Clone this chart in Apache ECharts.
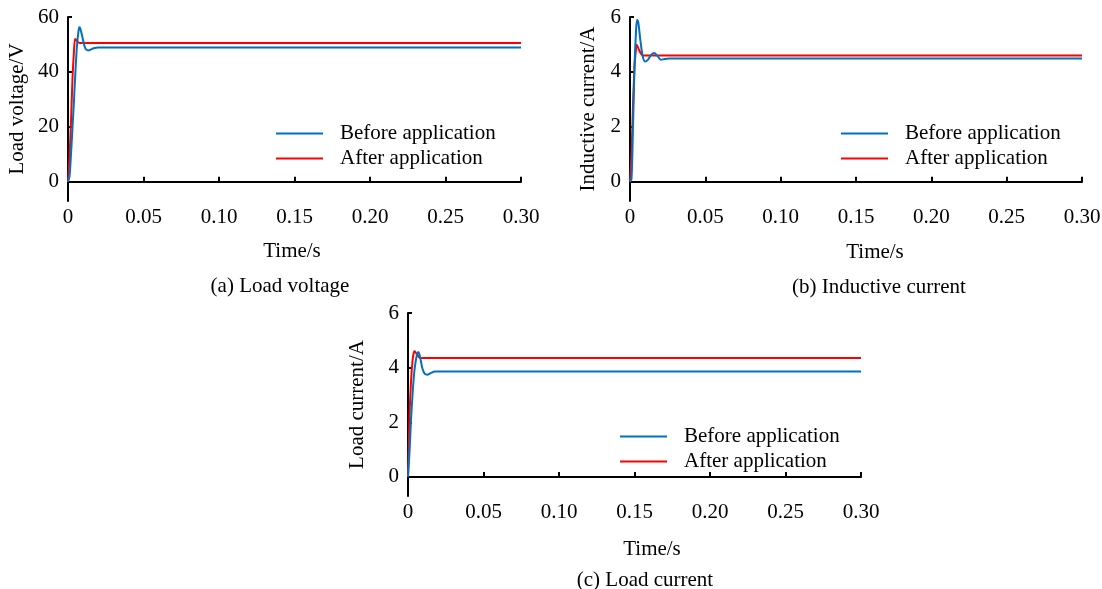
<!DOCTYPE html>
<html>
<head>
<meta charset="utf-8">
<script src="https://cdn.jsdelivr.net/npm/echarts@6/dist/echarts.min.js"></script>
<style>
  html, body { margin: 0; padding: 0; background: #fff; }
  #main { width: 1102px; height: 589px; }
</style>
</head>
<body>
<div id="main"></div>
<script>
// x tick labels
const timeTicks = [0, 0.05, 0.10, 0.15, 0.20, 0.25, 0.30];

// (a) load voltage
const voltBeforeT = [0, 0.001, 0.002, 0.003, 0.004, 0.005, 0.006, 0.007, 0.0075, 0.008, 0.009, 0.010, 0.011, 0.012, 0.0135, 0.015, 0.017, 0.020, 0.30];
const voltBeforeV = [0, 2, 10, 20, 30, 41, 50, 55, 56.3, 56, 54, 51.5, 49.3, 48.2, 47.8, 48.1, 48.6, 48.9, 48.9];
const voltAfterT = [0, 0.001, 0.002, 0.003, 0.004, 0.0047, 0.0055, 0.0065, 0.008, 0.30];
const voltAfterV = [0, 9, 22, 38, 48, 52, 51.6, 50.9, 50.5, 50.5];

// (b) inductive current
const indBeforeT = [0, 0.001, 0.002, 0.003, 0.004, 0.0047, 0.0055, 0.007, 0.0085, 0.010, 0.012, 0.014, 0.016, 0.018, 0.0205, 0.023, 0.026, 0.30];
const indBeforeV = [0, 0.1, 2, 4.2, 5.5, 5.9, 5.8, 5.1, 4.55, 4.38, 4.45, 4.62, 4.69, 4.6, 4.44, 4.47, 4.49, 4.49];
const indAfterT = [0, 0.001, 0.002, 0.003, 0.004, 0.0045, 0.006, 0.0075, 0.0085, 0.30];
const indAfterV = [0, 1, 2.8, 4.2, 4.85, 4.99, 4.8, 4.65, 4.6, 4.6];

// (c) load current
const loadBeforeT = [0, 0.001, 0.002, 0.003, 0.004, 0.005, 0.006, 0.0068, 0.0075, 0.0085, 0.0095, 0.011, 0.0128, 0.015, 0.018, 0.30];
const loadBeforeV = [0, 0.9, 2.1, 3.0, 3.75, 4.2, 4.48, 4.57, 4.5, 4.25, 3.98, 3.78, 3.74, 3.8, 3.86, 3.86];
const loadAfterT = [0, 0.001, 0.002, 0.003, 0.0038, 0.0044, 0.0055, 0.007, 0.0084, 0.30];
const loadAfterV = [0, 2.2, 3.5, 4.25, 4.55, 4.6, 4.52, 4.4, 4.35, 4.35];

const voltTicks = [0, 20, 40, 60];
const currTicks = [0, 2, 4, 6];

const FONT = 'Liberation Serif, Times New Roman, serif';
const FS = 21;
const BLUE = '#0072BD';
const RED = '#FF0000';

function zip(t, v) {
    return t.map((x, i) => [x, v[i]]);
}

function xAxisOf(gridIndex) {
    return {
        gridIndex: gridIndex,
        type: 'value',
        min: 0,
        max: 0.3,
        interval: 0.05,
        axisLine: { lineStyle: { color: '#000', width: 2 } },
        axisTick: { inside: true, length: 5, lineStyle: { color: '#000', width: 2 } },
        axisLabel: {
            margin: 6,
            fontFamily: FONT, fontSize: FS, color: '#000',
            customValues: timeTicks,
            formatter: v => v === 0 ? '0' : v.toFixed(2)
        },
        splitLine: { show: false }
    };
}

function yAxisOf(gridIndex, name, gap, min, max, ticks) {
    return {
        gridIndex: gridIndex,
        type: 'value',
        min: min,
        max: max,
        name: name,
        nameLocation: 'middle',
        nameGap: gap,
        nameTextStyle: { fontFamily: FONT, fontSize: FS, color: '#000' },
        axisLine: { show: true, lineStyle: { color: '#000', width: 2 } },
        axisTick: { inside: true, length: 4, customValues: ticks, lineStyle: { color: '#000', width: 2 } },
        axisLabel: { margin: 9, fontFamily: FONT, fontSize: FS, color: '#000', customValues: ticks },
        splitLine: { show: false }
    };
}

function lineOf(name, color, data, idx) {
    return {
        name: name,
        type: 'line',
        xAxisIndex: idx,
        yAxisIndex: idx,
        data: data,
        symbol: 'none',
        smooth: 0.3,
        color: color,
        lineStyle: { color: color, width: 2 },
        animation: false
    };
}

function legendOf(left, top) {
    return {
        left: left,
        top: top,
        orient: 'vertical',
        icon: 'rect',
        itemWidth: 47,
        itemHeight: 2,
        itemGap: 4,
        data: ['Before application', 'After application'],
        textStyle: { fontFamily: FONT, fontSize: FS, color: '#000', padding: [0, 0, 0, 12] }
    };
}

function text(x, y, str) {
    return {
        type: 'text',
        x: x,
        y: y,
        style: { text: str, fontFamily: FONT, fontSize: FS, fill: '#000', align: 'center', verticalAlign: 'middle' }
    };
}

const myChart = echarts.init(document.getElementById('main'));
const option = {
    animation: false,
    grid: [
        { left: 68, top: 17, width: 453, height: 184, outerBoundsMode: 'none' },
        { left: 630, top: 17, width: 452, height: 184, outerBoundsMode: 'none' },
        { left: 408, top: 313, width: 453, height: 183, outerBoundsMode: 'none' }
    ],
    xAxis: [xAxisOf(0), xAxisOf(1), xAxisOf(2)],
    yAxis: [
        yAxisOf(0, 'Load voltage/V', 40, -7, 60, voltTicks),
        yAxisOf(1, 'Inductive current/A', 31, -0.7, 6, currTicks),
        yAxisOf(2, 'Load current/A', 40, -0.7, 6, currTicks)
    ],
    legend: [legendOf(271, 118), legendOf(836, 118), legendOf(615, 421)],
    series: [
        lineOf('After application', RED, zip(voltAfterT, voltAfterV), 0),
        lineOf('Before application', BLUE, zip(voltBeforeT, voltBeforeV), 0),
        lineOf('After application', RED, zip(indAfterT, indAfterV), 1),
        lineOf('Before application', BLUE, zip(indBeforeT, indBeforeV), 1),
        lineOf('After application', RED, zip(loadAfterT, loadAfterV), 2),
        lineOf('Before application', BLUE, zip(loadBeforeT, loadBeforeV), 2)
    ],
    graphic: [
        text(292, 251, 'Time/s'),
        text(875, 252, 'Time/s'),
        text(652, 549, 'Time/s'),
        text(280, 286, '(a) Load voltage'),
        text(879, 287, '(b) Inductive current'),
        text(645, 580, '(c) Load current')
    ]
};
myChart.setOption(option);
</script>
</body>
</html>
